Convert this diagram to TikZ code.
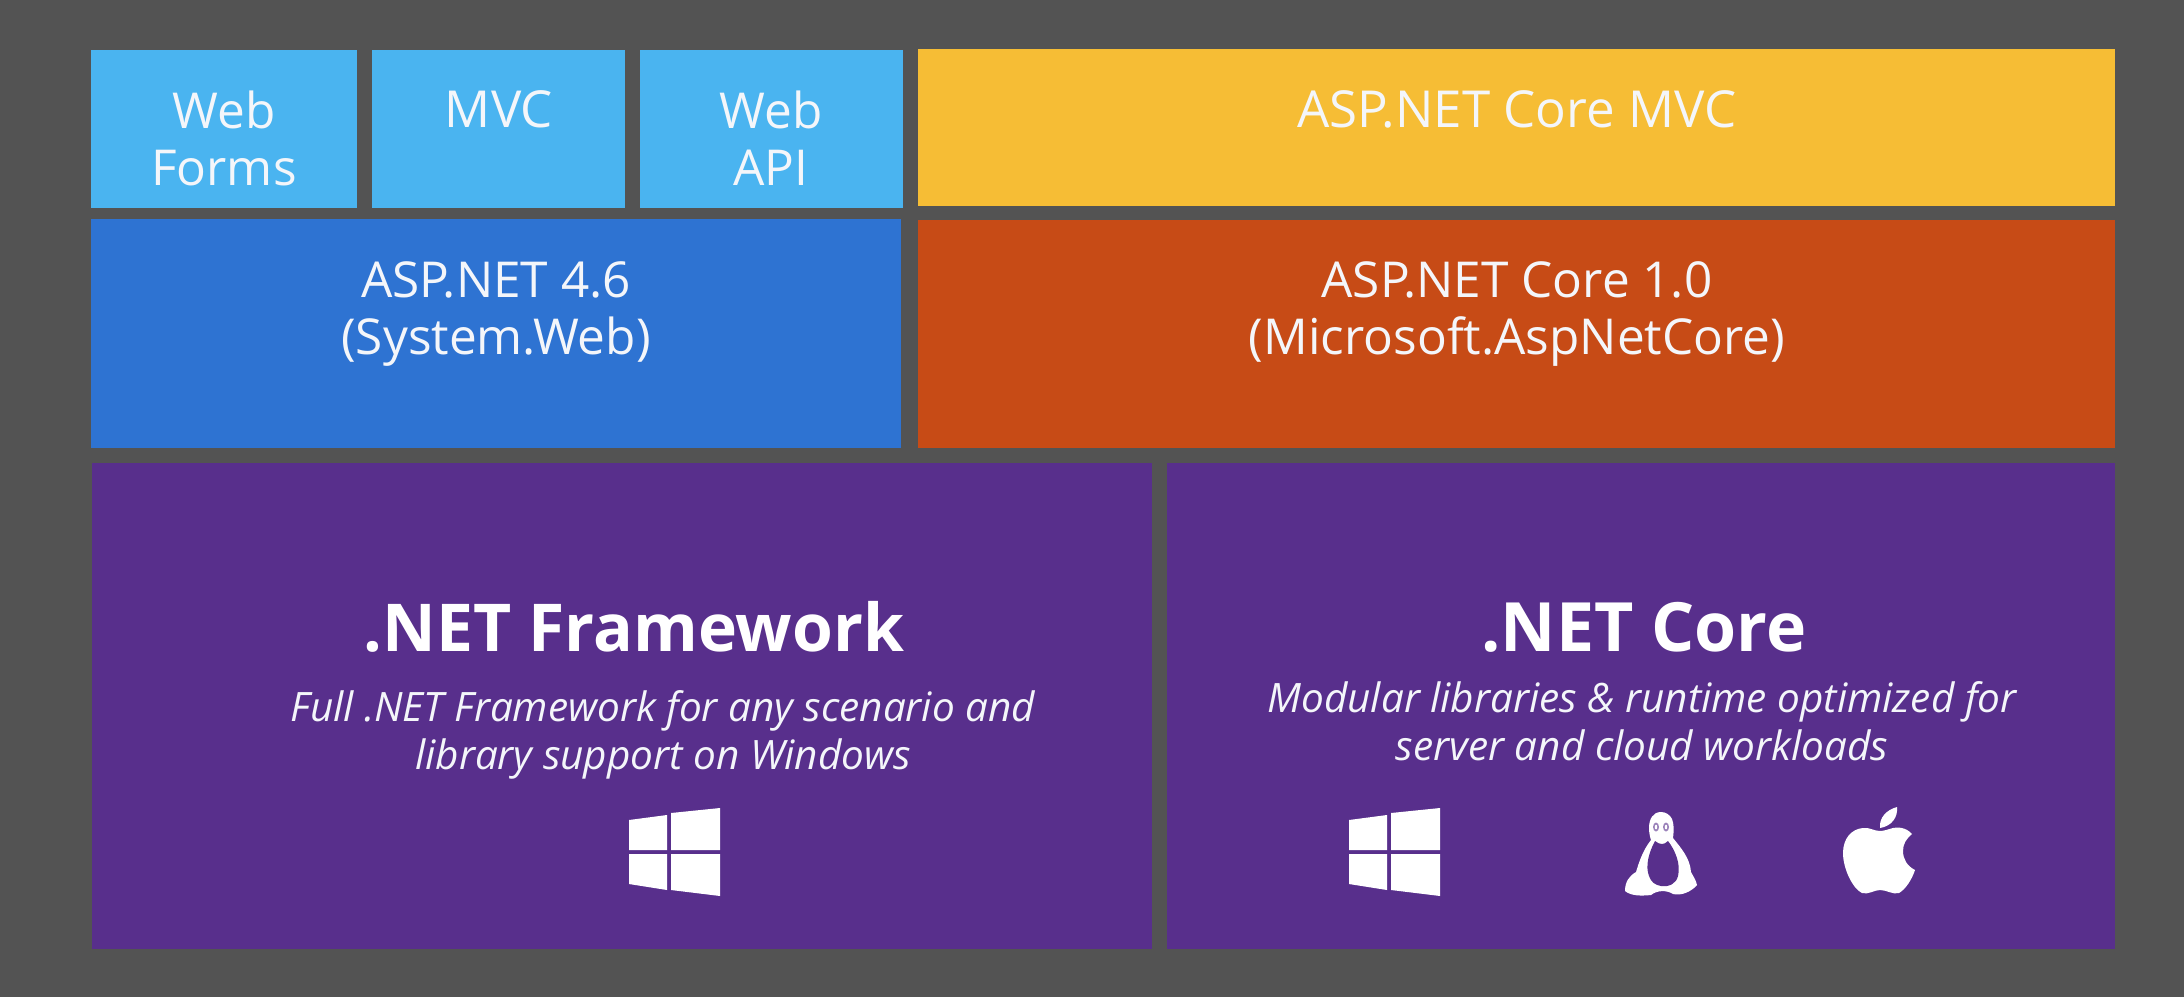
\documentclass[tikz,border=0pt]{standalone}
\usepackage{fontspec}
\setmainfont{Open Sans}
\definecolor{bg}{HTML}{535353}
\definecolor{lblue}{HTML}{4AB4F0}
\definecolor{dblue}{HTML}{2E73D2}
\definecolor{yel}{HTML}{F6BD35}
\definecolor{org}{HTML}{C74B16}
\definecolor{pur}{HTML}{582F8C}
\definecolor{txt}{HTML}{F4F6FA}
\newcommand{\winlogo}[1]{%
 \begin{scope}[shift={(#1)}]
 \fill[white] (0,12) -- (38,7) -- (38,42) -- (0,42) -- cycle;
 \fill[white] (42,5) -- (91,0) -- (91,42) -- (42,42) -- cycle;
 \fill[white] (0,46) -- (38,46) -- (38,82) -- (0,76) -- cycle;
 \fill[white] (42,46) -- (91,46) -- (91,88) -- (42,82) -- cycle;
 \end{scope}}
\tikzset{x=1pt,y=-1pt,
 tile/.style={anchor=north west,inner sep=0pt,outer sep=0pt,minimum width=#1},
 lab/.style={text=txt,inner sep=0pt,align=center,font=\fontsize{49.5}{57}\selectfont},
 labwide/.style={text=txt,inner sep=0pt,align=center,font=\fontsize{51}{57}\selectfont},
 head/.style={text=white,inner sep=0pt,font=\fontsize{66}{70}\selectfont\bfseries},
 headb/.style={text=white,inner sep=0pt,font=\fontsize{68}{70}\selectfont\bfseries},
 sub/.style={text=txt,inner sep=0pt,align=center,font=\fontsize{40.5}{48}\selectfont\itshape}}
\begin{document}
\begin{tikzpicture}
\useasboundingbox (0,0) rectangle (2184,997);
\fill[bg] (0,0) rectangle (2184,997);
% tiles
\node[tile=266pt,minimum height=158pt,fill=lblue] (wf) at (91,50) {};
\node[tile=253pt,minimum height=158pt,fill=lblue] (mvc) at (372,50) {};
\node[tile=263pt,minimum height=158pt,fill=lblue] (api) at (640,50) {};
\node[tile=810pt,minimum height=229pt,fill=dblue] (asp) at (91,219) {};
\node[tile=1197pt,minimum height=157pt,fill=yel] (cmvc) at (918,49) {};
\node[tile=1197pt,minimum height=228pt,fill=org] (core) at (918,220) {};
\node[tile=1060pt,minimum height=486pt,fill=pur] (fw) at (92,463) {};
\node[tile=948pt,minimum height=486pt,fill=pur] (nc) at (1167,463) {};
% labels
\node[lab] (t1) at (224,138) {Web\\Forms};
\node[labwide] (t2) at (499,109) {MVC};
\node[lab] (t3) at (771,138) {Web\\API};
\node[labwide] (t4) at (1517,109) {ASP.NET Core MVC};
\node[lab] (t5) at (496,314) {ASP.NET 4.6\\(System.Web)};
\node[lab] (t6) at (1517,314) {ASP.NET Core 1.0\\(Microsoft.AspNetCore)};
\node[head] (t7) at (634,627) {.NET Framework};
\node[headb] (t8) at (1644,627) {.NET Core};
\node[sub] (t9) at (663,735) {Full .NET Framework for any scenario and\\library support on Windows};
\node[sub] (t10) at (1642,721) {Modular libraries \& runtime optimized for\\server and cloud workloads};
% logos
\winlogo{629,808}
\winlogo{1349,808}
% tux
\begin{scope}[shift={(1625,812)}]
\fill[white] (36,0) .. controls (28,0) and (24,7) .. (24,16)
 .. controls (24,21) and (25,25) .. (26,28)
 .. controls (18,38) and (14,50) .. (11,60)
 .. controls (4,64) and (0,70) .. (0,79)
 .. controls (6,84) and (16,84) .. (26,83)
 .. controls (32,78) and (42,78) .. (48,82)
 .. controls (56,84) and (66,80) .. (72,73)
 .. controls (71,68) and (68,64) .. (66,60)
 .. controls (65,46) and (56,36) .. (48,26)
 .. controls (49,18) and (49,12) .. (47,7)
 .. controls (45,3) and (41,0) .. (36,0) -- cycle;
\fill[pur] (30,29) .. controls (35,33) and (39,33) .. (43,29)
 .. controls (50,38) and (56,52) .. (53,64)
 .. controls (51,72) and (44,75) .. (36,74)
 .. controls (30,73) and (26,70) .. (24,64)
 .. controls (20,54) and (24,40) .. (30,29) -- cycle;
\fill[pur!60!white] (31,15) ellipse (3 and 4.5);
\fill[pur!60!white] (41,15) ellipse (3 and 4.5);
\fill[white] (31,15) ellipse (1.2 and 2.4);
\fill[white] (41,15) ellipse (1.2 and 2.4);
\end{scope}
% apple
\begin{scope}[shift={(1843,807)}]
\fill[white] (37,24) .. controls (31,24) and (26,20) .. (20,21)
 .. controls (8,22) and (0,32) .. (0,46)
 .. controls (0,62) and (10,82) .. (19,86)
 .. controls (25,88) and (31,83) .. (37,83)
 .. controls (44,83) and (50,88) .. (56,86)
 .. controls (63,82) and (69,72) .. (72,63)
 .. controls (64,59) and (60,52) .. (60,44)
 .. controls (60,37) and (63,32) .. (69,27)
 .. controls (63,20) and (54,20) .. (50,21)
 .. controls (46,22) and (41,24) .. (37,24) -- cycle;
\fill[white] (37,21) .. controls (36,11) and (43,3) .. (54,0)
 .. controls (55,10) and (49,19) .. (37,21) -- cycle;
\end{scope}
\end{tikzpicture}
\end{document}
